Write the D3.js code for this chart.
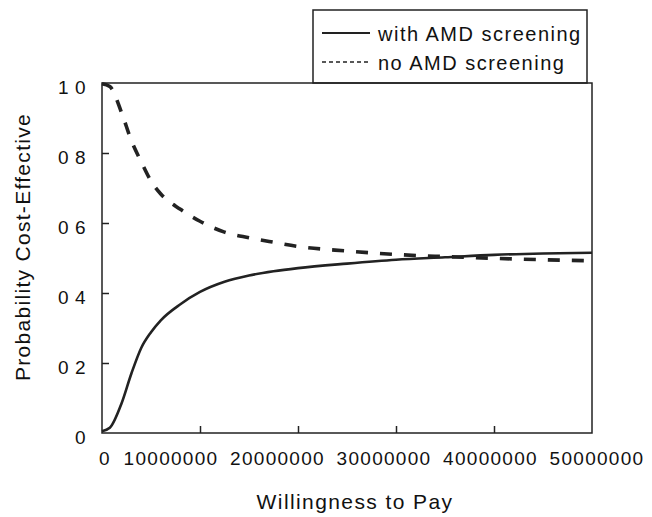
<!DOCTYPE html>
<html>
<head>
<meta charset="utf-8">
<script src="https://cdn.jsdelivr.net/npm/d3@7"></script>
<style>
  html, body { margin: 0; padding: 0; background: #fff; }
  svg text { font-family: "Liberation Sans", Arial, sans-serif; fill: #111; }
</style>
</head>
<body>
<div id="chart"></div>
<script>
// Willingness to pay (x) and probability cost-effective for each strategy
const wtp = [0, 800000, 2000000, 3000000, 4000000, 5000000, 6000000, 8000000, 10000000,
  12500000, 15000000, 17500000, 20000000, 25000000, 30000000, 35000000, 40000000, 45000000, 50000000];
const withScreening = [0.005, 0.015, 0.085, 0.17, 0.243, 0.288, 0.322, 0.368, 0.403,
  0.432, 0.45, 0.462, 0.471, 0.484, 0.495, 0.502, 0.509, 0.513, 0.515];
const noScreening = [0.998, 0.99, 0.915, 0.835, 0.775, 0.72, 0.683, 0.639, 0.605,
  0.574, 0.558, 0.545, 0.533, 0.52, 0.51, 0.504, 0.499, 0.495, 0.492];

const xTicks = [0, 10000000, 20000000, 30000000, 40000000, 50000000];
const yTicks = [0, 0.2, 0.4, 0.6, 0.8, 1.0];
const yTickLabels = ['0', '0 2', '0 4', '0 6', '0 8', '1 0'];
const legendLabels = ['with AMD screening', 'no AMD screening'];

const W = 652, H = 517;
const plot = { left: 102, right: 592, top: 83, bottom: 433 };

const svg = d3.select('#chart').append('svg')
  .attr('width', W).attr('height', H);

const x = d3.scaleLinear().domain([0, 50000000]).range([plot.left, plot.right]);
const y = d3.scaleLinear().domain([0, 1]).range([plot.bottom, plot.top]);
// tick labels in the source sit a little wider apart than the ticks
const xLabel = d3.scaleLinear().domain([0, 10000000, 50000000]).range([105, 171, 597]);

// Legend box (sits on the plot's top edge)
const lg = svg.append('g');
lg.append('rect')
  .attr('x', 313).attr('y', 10).attr('width', 274).attr('height', plot.top - 10)
  .attr('fill', '#fff').attr('stroke', '#222').attr('stroke-width', 1.5);
legendLabels.forEach((lab, i) => {
  const ly = 33 + i * 29;
  lg.append('line')
    .attr('x1', 322).attr('x2', 370).attr('y1', ly).attr('y2', ly)
    .attr('stroke', '#222')
    .attr('stroke-width', i === 0 ? 2 : 1.6)
    .attr('stroke-dasharray', i === 0 ? null : '4,3');
  lg.append('text')
    .attr('x', 378).attr('y', ly + 8)
    .attr('font-size', '20px').attr('letter-spacing', '1.5px')
    .text(lab);
});

// Frame
svg.append('rect')
  .attr('x', plot.left).attr('y', plot.top)
  .attr('width', plot.right - plot.left).attr('height', plot.bottom - plot.top)
  .attr('fill', 'none').attr('stroke', '#222').attr('stroke-width', 1.5);

// Inward ticks
const xAxis = svg.append('g')
  .attr('transform', `translate(0,${plot.bottom})`)
  .call(d3.axisBottom(x).tickValues(xTicks.slice(1, -1)).tickSize(-7).tickFormat(''));
const yAxis = svg.append('g')
  .attr('transform', `translate(${plot.left},0)`)
  .call(d3.axisLeft(y).tickValues(yTicks.slice(1, -1)).tickSize(-7).tickFormat(''));
[xAxis, yAxis].forEach(a => {
  a.select('.domain').remove();
  a.selectAll('line').attr('stroke', '#222').attr('stroke-width', 1.5);
});

// Tick labels
svg.append('g').selectAll('text')
  .data(xTicks)
  .join('text')
  .attr('x', d => xLabel(d))
  .attr('y', 465)
  .attr('text-anchor', 'middle')
  .attr('font-size', '19px').attr('letter-spacing', '1.3px')
  .text(d => String(d));

svg.append('g').selectAll('text')
  .data(yTicks)
  .join('text')
  .attr('x', 86)
  .attr('y', d => y(d) + 11)
  .attr('text-anchor', 'end')
  .attr('font-size', '19px').attr('letter-spacing', '0.5px')
  .text((d, i) => yTickLabels[i]);

// Axis titles
svg.append('text')
  .attr('x', 355).attr('y', 509)
  .attr('text-anchor', 'middle')
  .attr('font-size', '21px').attr('letter-spacing', '1.4px')
  .text('Willingness to Pay');

svg.append('text')
  .attr('transform', 'translate(30,247) rotate(-90)')
  .attr('text-anchor', 'middle')
  .attr('font-size', '21px').attr('letter-spacing', '1.3px')
  .text('Probability Cost-Effective');

// Curves
const line = d3.line()
  .x((d, i) => x(wtp[i]))
  .y(d => y(d))
  .curve(d3.curveMonotoneX);

svg.append('path')
  .datum(withScreening)
  .attr('d', line)
  .attr('fill', 'none').attr('stroke', '#222').attr('stroke-width', 2.6);

svg.append('path')
  .datum(noScreening)
  .attr('d', line)
  .attr('fill', 'none').attr('stroke', '#222').attr('stroke-width', 3.6)
  .attr('stroke-dasharray', '12,12');
</script>
</body>
</html>
